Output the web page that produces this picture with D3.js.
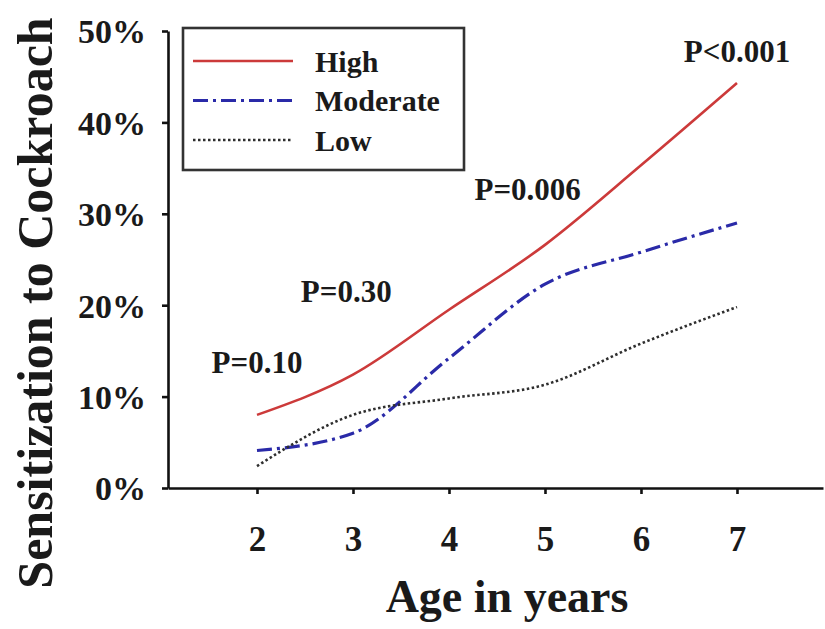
<!DOCTYPE html>
<html>
<head>
<meta charset="utf-8">
<script src="https://cdn.jsdelivr.net/npm/d3@7"></script>
<style>
  html, body { margin: 0; padding: 0; background: #fff; }
  svg text { font-family: "Liberation Serif", "Times New Roman", serif; font-weight: bold; fill: #1a1a1a; }
</style>
</head>
<body>
<svg id="chart" width="825" height="629"></svg>
<script>
// ---- data ----
const ages = [2, 3, 4, 5, 6, 7];
const high = [8.0, 12.4, 19.5, 26.6, 35.3, 44.3];
const moderate = [4.1, 6.0, 14.2, 22.3, 25.8, 29.0];
const low = [2.4, 8.0, 9.8, 11.3, 15.8, 19.8];
const seriesNames = ["High", "Moderate", "Low"];
const yTicks = [0, 10, 20, 30, 40, 50];
const xTicks = [2, 3, 4, 5, 6, 7];
const pLabels = ["P=0.10", "P=0.30", "P=0.006", "P<0.001"];
const pAges = [2, 2.93, 4.82, 7];          // horizontal anchor (age units) of each label
const pValuesAt = [12.6, 20.4, 31.5, 46.6]; // baseline (in % units) of each label
const xTitle = "Age in years";
const yTitle = "Sensitization to Cockroach";

// ---- layout ----
const svg = d3.select("#chart");
const x = d3.scaleLinear().domain([1.073, 7.896]).range([168, 823]);
const y = d3.scaleLinear().domain([0, 50]).range([488, 31]);

const styles = {
  High: { color: "#cc3a3a", width: 2.6, dash: null },
  Moderate: { color: "#2a2aa8", width: 3.2, dash: "15,5,3,5" },
  Low: { color: "#2e2e2e", width: 2.6, dash: "2.5,2.5" }
};
const data = { High: high, Moderate: moderate, Low: low };

// axes
const yAxis = d3.axisLeft(y).tickValues(yTicks).tickFormat(d => d + "%").tickSize(6).tickSizeOuter(0).tickPadding(16);
const gy = svg.append("g").attr("transform", "translate(168,0)").call(yAxis);
gy.select(".domain").attr("stroke", "#111").attr("stroke-width", 2.6);
gy.selectAll(".tick line").attr("stroke", "#111").attr("stroke-width", 2.6);
gy.selectAll(".tick text").style("font-size", "34px").attr("dy", "0.35em");

const xAxis = d3.axisBottom(x).tickValues(xTicks).tickFormat(d3.format("d")).tickSize(6).tickSizeOuter(0).tickPadding(32);
const gx = svg.append("g").attr("transform", "translate(0,488)").call(xAxis);
gx.select(".domain").attr("stroke", "#111").attr("stroke-width", 2.6);
gx.selectAll(".tick line").attr("stroke", "#111").attr("stroke-width", 2.6);
gx.selectAll(".tick text").style("font-size", "35px").attr("dy", "0.71em");

// lines
const line = d3.line().x((d, i) => x(ages[i])).y(d => y(d)).curve(d3.curveMonotoneX);
seriesNames.forEach(name => {
  const s = styles[name];
  svg.append("path")
    .datum(data[name])
    .attr("d", line)
    .attr("fill", "none")
    .attr("stroke", s.color)
    .attr("stroke-width", s.width)
    .attr("stroke-dasharray", s.dash);
});

// p labels
pLabels.forEach((t, i) => {
  svg.append("text")
    .attr("x", x(pAges[i]))
    .attr("y", y(pValuesAt[i]))
    .attr("text-anchor", "middle")
    .style("font-size", "31px")
    .text(t);
});

// legend
const lg = svg.append("g");
lg.append("rect").attr("x", 183).attr("y", 28).attr("width", 281).attr("height", 142)
  .attr("fill", "#fff").attr("stroke", "#333").attr("stroke-width", 2.6);
seriesNames.forEach((name, i) => {
  const s = styles[name];
  const ly = 61 + i * 39.5;
  lg.append("line").attr("x1", 193).attr("x2", 293).attr("y1", ly).attr("y2", ly)
    .attr("stroke", s.color).attr("stroke-width", s.width).attr("stroke-dasharray", s.dash);
  lg.append("text").attr("x", 315).attr("y", ly).attr("dy", "0.35em")
    .style("font-size", "30px").text(name);
});

// axis titles
svg.append("text").attr("x", 507).attr("y", 612).attr("text-anchor", "middle")
  .style("font-size", "46px").text(xTitle);
svg.append("text").attr("transform", "translate(52,303) rotate(-90)").attr("text-anchor", "middle")
  .style("font-size", "50px").text(yTitle);
</script>
</body>
</html>
